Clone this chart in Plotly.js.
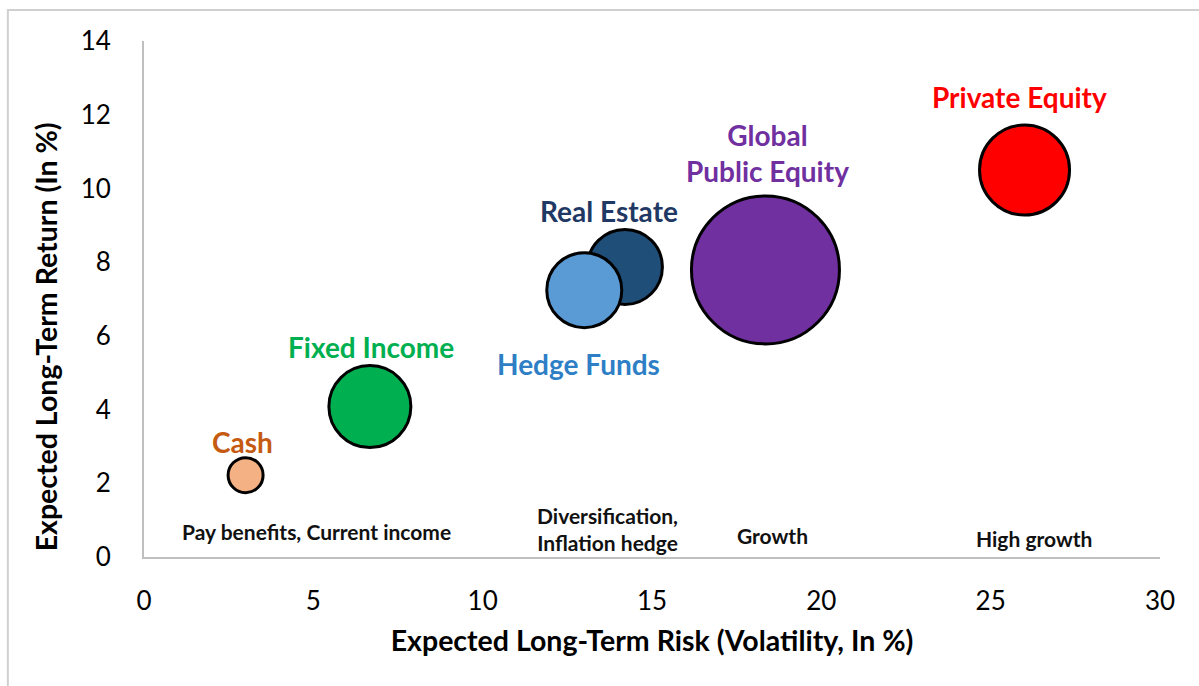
<!DOCTYPE html>
<html>
<head>
<meta charset="utf-8">
<script src="https://cdn.plot.ly/plotly-3.0.1.min.js"></script>
<style>
  html, body { margin: 0; padding: 0; background: #fff; }
  #chart { width: 1199px; height: 686px; }
</style>
</head>
<body>
<div id="chart"></div>
<script>
// asset classes, drawn back to front
var assets = ['Cash', 'Fixed Income', 'Real Estate', 'Hedge Funds', 'Global Public Equity', 'Private Equity'];
var risk = [3.0, 6.67, 14.2, 13.0, 18.35, 26.0];       // volatility, %
var ret = [2.22, 4.08, 7.87, 7.24, 7.79, 10.5];        // return, %
var bubbleSize = [35, 82, 75, 75, 148, 90];
var fills = ['#F4B183', '#00B050', '#1F4E79', '#5B9BD5', '#7030A0', '#FF0000'];

// label text and colours
var labelText = ['Cash', 'Fixed Income', 'Real Estate', 'Hedge Funds', 'Global<br>Public Equity', 'Private Equity'];
var labelColors = ['#C55A11', '#00B050', '#1F3864', '#2E7FC6', '#7030A0', '#FF0000'];
var labelX = [2.9, 6.71, 13.72, 12.83, 18.42, 25.86];
var labelY = [3.12, 5.7, 9.39, 5.24, 10.97, 12.48];

// role of each region along the bottom
var roles = ['Pay benefits, Current income', 'Diversification,<br>Inflation hedge', 'Growth', 'High growth'];
var roleX = [5.08, 13.69, 18.56, 26.28];
var roleY = [0.705, 0.77, 0.57, 0.515];

var trace = [{
  x: risk,
  y: ret,
  text: assets,
  mode: 'markers',
  type: 'scatter',
  hoverinfo: 'text',
  marker: {
    size: bubbleSize,
    color: fills,
    opacity: 1,
    line: {color: '#000', width: 3}
  },
  cliponaxis: false
}];

var annotations = [];
for (var i = 0; i < assets.length; i++) {
  annotations.push({
    x: labelX[i], y: labelY[i], xref: 'x', yref: 'y',
    text: '<b>' + labelText[i] + '</b>',
    showarrow: false,
    font: {family: 'Lato', size: 28, color: labelColors[i]}
  });
}
for (var j = 0; j < roles.length; j++) {
  annotations.push({
    x: roleX[j], y: roleY[j], xref: 'x', yref: 'y',
    text: '<b>' + roles[j] + '</b>',
    showarrow: false,
    font: {family: 'Lato', size: 21, color: '#111'}
  });
}
// y title sits a bit below the middle of the axis in the original
annotations.push({
  x: -0.115, y: 0.426, xref: 'paper', yref: 'paper',
  text: '<b>Expected Long-Term Return (In %)</b>',
  textangle: -90,
  showarrow: false,
  font: {family: 'Lato', size: 28.5, color: '#000'}
});

var layout = {
  width: 1199,
  height: 686,
  margin: {l: 144, r: 39, t: 41, b: 129},
  paper_bgcolor: '#fff',
  plot_bgcolor: '#fff',
  showlegend: false,
  font: {family: 'Lato', color: '#000'},
  xaxis: {
    range: [0, 30],
    dtick: 5,
    showgrid: false,
    zeroline: false,
    showline: true,
    linecolor: '#BFBFBF',
    linewidth: 2,
    ticks: '',
    ticklabelstandoff: 20,
    tickfont: {size: 26, color: '#000'},
    title: {
      text: '<b>Expected Long-Term Risk (Volatility, In %)</b>',
      font: {size: 28.5, color: '#000'},
      standoff: 16
    }
  },
  yaxis: {
    range: [0, 14],
    dtick: 2,
    showgrid: false,
    zeroline: false,
    showline: true,
    linecolor: '#BFBFBF',
    linewidth: 2,
    ticks: '',
    ticklabelstandoff: 26,
    tickfont: {size: 26, color: '#000'}
  },
  annotations: annotations,
  shapes: [{
    type: 'rect', xref: 'paper', yref: 'paper',
    x0: -0.134, x1: 1.045, y0: -0.28, y1: 1.06,
    line: {color: '#D0D0D0', width: 2}
  }]
};

Plotly.newPlot('chart', trace, layout, {displayModeBar: false, responsive: false});
</script>
</body>
</html>
